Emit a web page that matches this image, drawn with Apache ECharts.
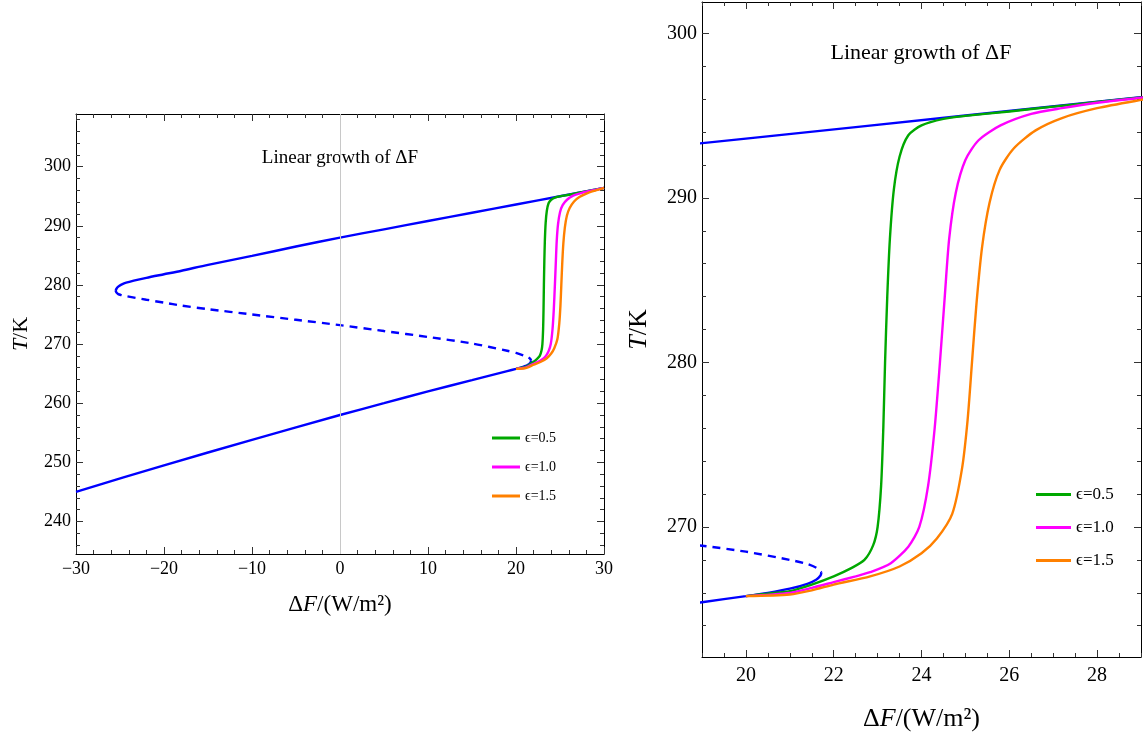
<!DOCTYPE html>
<html><head><meta charset="utf-8">
<script src="https://cdn.jsdelivr.net/npm/echarts@6/dist/echarts.min.js"></script>
<style>html,body{margin:0;padding:0;background:#fff;} #c{width:1143px;height:737px;}</style>
</head><body><div id="c"></div>
<script>
// ---- data (ΔF in W/m², T in K) ----
const upperBranch = [[-25.5,279.0],[-25.4,279.35],[-25.2,279.7],[-24.9,280.0],[-24.3,280.4],[-22,281.2],[-20,281.8],[-18,282.4],[-15,283.4],[-10,284.9],[-5,286.5],[0,288.0],[5,289.4],[10,290.8],[15,292.2],[20,293.6],[25,295.0],[30,296.4]];
const middleBranch = [[-25.5,279.0],[-25.4,278.7],[-25.2,278.45],[-24.9,278.3],[-24.3,278.1],[-22,277.5],[-20,277.0],[-18,276.5],[-15,275.9],[-10,275.0],[-5,274.1],[0,273.2],[5,272.2],[10,271.2],[15,270.1],[19,268.86],[20,268.5],[21,268.0],[21.4,267.75],[21.62,267.5],[21.72,267.25]];
const lowerBranch = [[21.72,267.25],[21.7,267.05],[21.6,266.8],[21.4,266.55],[21.0,266.25],[20.5,266.0],[20,265.8],[19,265.43],[15,263.9],[10,262.0],[5,260.0],[0,258.0],[-10,253.8],[-20,249.5],[-30,245.0]];
const eps05 = [[20,265.8],[20.5,265.95],[21,266.1],[21.5,266.5],[22,267.0],[22.4,267.5],[22.7,268.0],[22.9,268.9],[23.0,270.0],[23.08,272.5],[23.13,276.0],[23.17,280.0],[23.22,284.0],[23.28,287.5],[23.37,290.5],[23.5,292.5],[23.7,293.8],[24.0,294.4],[24.5,294.8],[25,294.98],[26,295.25],[27,295.54],[28,295.82],[29,296.1],[30,296.4]];
const eps10 = [[20,265.8],[21,266.0],[21.5,266.3],[22,266.65],[22.5,267.0],[22.83,267.25],[23.3,267.8],[23.7,268.8],[23.95,270.0],[24.15,272.5],[24.3,276.0],[24.42,280.0],[24.53,284.0],[24.63,287.5],[24.78,290.3],[25.0,292.3],[25.3,293.5],[25.8,294.4],[26.5,295.1],[27.2,295.45],[28,295.78],[29,296.08],[30,296.4]];
const eps15 = [[20,265.8],[21,265.9],[21.5,266.15],[22,266.5],[22.83,267.0],[23.5,267.6],[24.0,268.4],[24.35,269.3],[24.7,270.8],[24.92,273.5],[25.05,276.5],[25.15,280.0],[25.25,283.5],[25.38,287.0],[25.55,289.7],[25.78,291.7],[26.1,293.0],[26.6,294.1],[27.2,294.85],[28,295.45],[29,295.95],[30,296.4]];
const seriesNames = ['ϵ=0.5','ϵ=1.0','ϵ=1.5'];
const annotation = 'Linear growth of ΔF';

// tick labels
const leftXTicks = [-30,-20,-10,0,10,20,30];
const leftYTicks = [240,250,260,270,280,290,300];
const rightXTicks = [20,22,24,26,28];
const rightYTicks = [270,280,290,300];
const leftXRange = [-30,30], leftYRange = [234.5,308.9];
const rightXRange = [19,29], rightYRange = [262.1,301.9];

function steps(lo, hi, step){ const out=[]; let v=Math.ceil(lo/step-1e-9)*step; for(; v<=hi+1e-9; v+=step) out.push(+v.toFixed(4)); return out; }

const FONT = '"Liberation Serif", "DejaVu Serif", serif';
const BLUE='#0000ff', GREEN='#00a800', MAG='#ff00ff', ORANGE='#ff8000';
const fmt = v => String(v).replace('-', '\u2212');

function axes(dim, grid, range, majors, minors, labelOpts, nameOpts){
  const base = {type:'value', gridIndex:grid, min:range[0], max:range[1], splitLine:{show:false}, scale:true};
  const mainPos = dim==='x'?'bottom':'left', oppPos = dim==='x'?'top':'right';
  const list = [];
  list.push(Object.assign({}, base, {position:mainPos,
    axisLine:{show:true, onZero:false, lineStyle:{color:'#000', width:1}},
    axisTick:{show:true, inside:true, length:7, customValues:majors, lineStyle:{color:'#333'}},
    axisLabel:Object.assign({show:true, customValues:majors, formatter:fmt, color:'#000', fontFamily:FONT, fontSize:18}, labelOpts)}, nameOpts||{}));
  list.push(Object.assign({}, base, {position:oppPos,
    axisLine:{show:true, onZero:false, lineStyle:{color:'#000', width:1}},
    axisTick:{show:true, inside:true, length:7, customValues:majors, lineStyle:{color:'#333'}},
    axisLabel:{show:false}}));
  [mainPos, oppPos].forEach(p=>list.push(Object.assign({}, base, {position:p,
    axisLine:{show:false, onZero:false},
    axisTick:{show:true, inside:true, length:4, customValues:minors, lineStyle:{color:'#333'}},
    axisLabel:{show:false}})));
  return list;
}

function rich(size){ return {i:{fontStyle:'italic', fontFamily:FONT, fontSize:size, color:'#000'}, n:{fontFamily:FONT, fontSize:size, color:'#000'}}; }
const xName = '{n|Δ}{i|F}{n|/(W/m²)}';
const yName = '{i|T}{n|/K}';

const xAxis = [].concat(
  axes('x',0,leftXRange,leftXTicks,steps(leftXRange[0],leftXRange[1],2),{margin:6},
    {name:xName, nameLocation:'middle', nameGap:39, nameTextStyle:{rich:rich(23)}}),
  axes('x',1,rightXRange,rightXTicks,steps(rightXRange[0],rightXRange[1],0.5),{margin:9, fontSize:20},
    {name:xName, nameLocation:'middle', nameGap:49, nameTextStyle:{rich:rich(26)}})
);
const yAxis = [].concat(
  axes('y',0,leftYRange,leftYTicks,steps(leftYRange[0],leftYRange[1],2),{margin:5},
    {name:yName, nameLocation:'middle', nameGap:44, nameTextStyle:{rich:rich(22)}}),
  axes('y',1,rightYRange,rightYTicks,steps(rightYRange[0],rightYRange[1],2),{margin:5, fontSize:20},
    {name:yName, nameLocation:'middle', nameGap:50, nameTextStyle:{rich:rich(26)}})
);

function line(name, data, color, xi, yi, dashed, z){
  return {type:'line', name:name, data:data, xAxisIndex:xi, yAxisIndex:yi, showSymbol:false, symbol:'none',
    smooth:0.25, clip:true, z:z||3, animation:false,
    lineStyle:{color:color, width:2.4, type: dashed?[8,6]:'solid'}, itemStyle:{color:color}};
}

const series = [];
[[0,0],[4,4]].forEach(([xi,yi])=>{
  series.push(line('upper', upperBranch, BLUE, xi, yi, false, 3));
  series.push(line('middle', middleBranch, BLUE, xi, yi, true, 3));
  series.push(line('lower', lowerBranch, BLUE, xi, yi, false, 3));
  series.push(line(seriesNames[0], eps05, GREEN, xi, yi, false, 4));
  series.push(line(seriesNames[1], eps10, MAG, xi, yi, false, 5));
  series.push(line(seriesNames[2], eps15, ORANGE, xi, yi, false, 6));
});
// vertical axis line at ΔF = 0 on the left panel
series.push({type:'line', name:'zero', data:[], xAxisIndex:0, yAxisIndex:0, z:1, animation:false,
  markLine:{silent:true, symbol:['none','none'], label:{show:false}, lineStyle:{color:'#c8c8c8', width:1, type:'solid'}, data:[{xAxis:0}]}});

const option = {
  backgroundColor:'#fff',
  animation:false,
  grid:[
    {left:76, top:114, width:528, height:440, containLabel:false, outerBoundsMode:'none'},
    {left:702, top:2, width:439, height:655, containLabel:false, outerBoundsMode:'none'}
  ],
  xAxis:xAxis, yAxis:yAxis,
  legend:[
    {data:seriesNames, orient:'vertical', left:487, top:426, icon:'rect', itemWidth:28, itemHeight:3, itemGap:15,
     textStyle:{fontFamily:FONT, fontSize:14, color:'#000'}, selectedMode:false},
    {data:seriesNames, orient:'vertical', left:1031, top:481, icon:'rect', itemWidth:35, itemHeight:3, itemGap:16,
     textStyle:{fontFamily:FONT, fontSize:17, color:'#000'}, selectedMode:false}
  ],
  graphic:[
    {type:'text', x:340, y:158, style:{text:annotation, align:'center', verticalAlign:'middle', fontFamily:FONT, fontSize:19, fill:'#000'}},
    {type:'text', x:921, y:53, style:{text:annotation, align:'center', verticalAlign:'middle', fontFamily:FONT, fontSize:22, fill:'#000'}}
  ],
  series:series
};
const chart = echarts.init(document.getElementById('c'), null, {renderer:'canvas'});
chart.setOption(option);
</script>
</body></html>
